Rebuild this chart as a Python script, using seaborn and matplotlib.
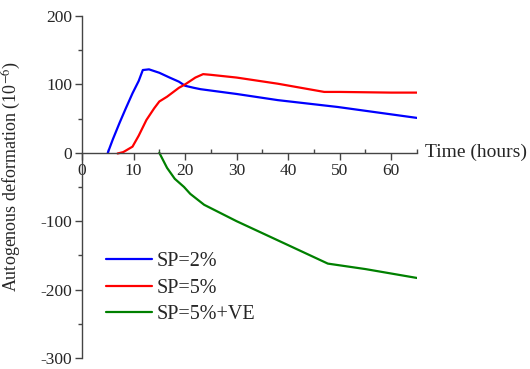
import matplotlib
matplotlib.use("Agg")
import matplotlib.pyplot as plt
import seaborn as sns
import pandas as pd
from matplotlib.ticker import MultipleLocator

# Data
sp2_x = [5, 6, 7.3, 8.5, 9.8, 11, 11.8, 13, 15, 17, 18.8, 20, 21.7, 23, 30, 38, 49.6, 65]
sp2_y = [0, 20, 44, 65, 87, 105, 121, 122, 117, 110, 104, 98, 95, 93, 86, 77, 67, 51]

sp5_x = [6.9, 8, 9.8, 11, 12.5, 14, 15, 16.5, 18.8, 20, 22, 23.5, 25, 30, 38, 47, 50, 60, 65]
sp5_y = [-1, 1, 9, 25, 48, 65, 75, 82, 95, 100, 110, 115, 114, 110, 101, 89, 89, 88, 88]

sp5ve_x = [15, 16.5, 18, 19.8, 21, 23.7, 30, 40, 47.7, 55, 65]
sp5ve_y = [0, -22, -38, -50, -60, -76, -100, -135, -162, -170, -183]

labels = ["SP=2%", "SP=5%", "SP=5%+VE"]
colors = ["#0000ff", "#ff0000", "#008000"]
x_ticks = [0, 10, 20, 30, 40, 50, 60]
y_ticks = [-300, -200, -100, 0, 100, 200]

sns.set_style("ticks")
plt.rcParams["font.family"] = ["Liberation Serif", "DejaVu Serif"]
plt.rcParams["mathtext.fontset"] = "stix"
plt.rcParams["axes.unicode_minus"] = False

fig = plt.figure(figsize=(5.30, 3.69), dpi=100)
ax = fig.add_axes([82/530, 1-358/369, (417-82)/530, (358-16)/369])

series = [(sp2_x, sp2_y), (sp5_x, sp5_y), (sp5ve_x, sp5ve_y)]
for (xs, ys), lab, col in zip(series, labels, colors):
    df = pd.DataFrame({"t": xs, "v": ys})
    sns.lineplot(data=df, x="t", y="v", ax=ax, color=col, linewidth=1.6,
                 label=lab, sort=False, estimator=None)

ax.set_xlim(0, 65)
ax.set_ylim(-300, 200)
ax.set_xticks(x_ticks)
ax.set_yticks(y_ticks)
ax.xaxis.set_minor_locator(MultipleLocator(5))
ax.yaxis.set_minor_locator(MultipleLocator(50))
ax.spines["top"].set_visible(False)
ax.spines["right"].set_visible(False)
ax.spines["bottom"].set_position(("data", 0))
for s in ("left", "bottom"):
    ax.spines[s].set_color("#444444")
    ax.spines[s].set_linewidth(1.0)

ax.tick_params(axis="x", which="major", direction="out", length=5, width=1,
               color="#444444", labelsize=12.5, pad=2)
ax.tick_params(axis="x", which="minor", direction="in", length=3, width=1,
               color="#444444")
ax.tick_params(axis="y", which="major", direction="out", length=5, width=1,
               color="#444444", labelsize=12.5, pad=2)
ax.tick_params(axis="y", which="minor", direction="out", length=3, width=1,
               color="#444444")

ax.set_xlabel("")
ax.set_ylabel("Autogenous deformation (10$^{-6}$)", fontsize=13)
ax.yaxis.set_label_coords(-0.176, 0.53)

ax.text(1.024, 0, "Time (hours)", transform=ax.get_yaxis_transform(),
        ha="left", va="center", fontsize=14)

leg = ax.legend(loc="center left", bbox_to_anchor=(106/530, 1-288/369),
                bbox_transform=fig.transFigure, frameon=False, fontsize=14.5,
                handlelength=2.3, handletextpad=0.2, labelspacing=0.38,
                borderpad=0, borderaxespad=0)

fig.savefig("out.png", dpi=100)
